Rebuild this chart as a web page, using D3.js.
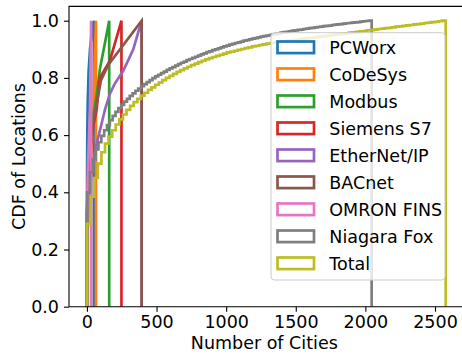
<!DOCTYPE html>
<html>
<head>
<meta charset="utf-8">
<script src="https://cdn.jsdelivr.net/npm/d3@7"></script>
<style>
  body { margin: 0; background: #fff; }
  svg { display: block; font-family: "DejaVu Sans", sans-serif; }
</style>
</head>
<body>
<div id="chart"></div>
<script>
const seriesNames = ["PCWorx", "CoDeSys", "Modbus", "Siemens S7", "EtherNet/IP", "BACnet", "OMRON FINS", "Niagara Fox", "Total"];
const seriesColors = ["#1f77b4", "#ff7f0e", "#2ca02c", "#d62728", "#9467bd", "#8c564b", "#e377c2", "#7f7f7f", "#bcbd22"];

// smaller protocols: [cities, cdf] knots (bins too narrow to show steps)
const pcworxCdf = [[1, 0.45], [3, 0.62], [6, 0.72], [12, 0.82], [22, 0.9], [35, 0.96], [50, 1.0]];
const codesysCdf = [[1, 0.22], [10, 0.32], [20, 0.42], [30, 0.52], [40, 0.62], [46, 0.69], [55, 0.85], [65, 1.0]];
const modbusCdf = [[1, 0.35], [10, 0.47], [20, 0.56], [35, 0.64], [57, 0.7], [70, 0.74], [93, 0.83], [160, 1.0]];
const siemensCdf = [[1, 0.33], [10, 0.45], [25, 0.55], [45, 0.63], [70, 0.69], [93, 0.8], [165, 0.86], [248, 1.0]];
const ethernetCdf = [[1, 0.3], [10, 0.36], [25, 0.43], [50, 0.52], [75, 0.58], [100, 0.63], [130, 0.69], [165, 0.745], [200, 0.78], [261, 0.825], [333, 0.9], [393, 1.0]];
const bacnetCdf = [[1, 0.32], [10, 0.45], [25, 0.56], [45, 0.64], [70, 0.71], [100, 0.79], [153, 0.845], [393, 1.0]];
const omronCdf = [[1, 0.3], [3, 0.38], [8, 0.5], [15, 0.6], [22, 0.69], [30, 1.0]];

// big series: cumulative fraction per bin, 100 equal bins between min and max
const niagaraRange = [1, 2045];
const niagaraCdf = [
  0.400, 0.470, 0.515, 0.550, 0.575, 0.597, 0.617, 0.635, 0.652, 0.667,
  0.681, 0.694, 0.706, 0.717, 0.727, 0.737, 0.746, 0.755, 0.763, 0.771,
  0.778, 0.785, 0.792, 0.799, 0.805, 0.811, 0.817, 0.822, 0.828, 0.833,
  0.838, 0.843, 0.848, 0.853, 0.857, 0.862, 0.866, 0.870, 0.874, 0.878,
  0.882, 0.886, 0.890, 0.893, 0.897, 0.900, 0.903, 0.907, 0.910, 0.913,
  0.916, 0.919, 0.922, 0.924, 0.927, 0.930, 0.932, 0.935, 0.937, 0.939,
  0.942, 0.944, 0.946, 0.948, 0.950, 0.952, 0.954, 0.956, 0.958, 0.960,
  0.961, 0.963, 0.965, 0.966, 0.968, 0.969, 0.971, 0.972, 0.974, 0.975,
  0.977, 0.978, 0.979, 0.981, 0.982, 0.983, 0.985, 0.986, 0.987, 0.988,
  0.990, 0.991, 0.992, 0.993, 0.994, 0.995, 0.997, 0.998, 0.999, 1.000
];
const totalRange = [1, 2577];
const totalCdf = [
  0.290, 0.385, 0.450, 0.500, 0.540, 0.570, 0.595, 0.617, 0.637, 0.655,
  0.672, 0.688, 0.702, 0.715, 0.727, 0.738, 0.748, 0.758, 0.767, 0.776,
  0.784, 0.792, 0.800, 0.807, 0.814, 0.821, 0.827, 0.833, 0.839, 0.845,
  0.850, 0.855, 0.860, 0.865, 0.869, 0.873, 0.877, 0.881, 0.885, 0.889,
  0.892, 0.895, 0.898, 0.901, 0.904, 0.907, 0.910, 0.912, 0.915, 0.917,
  0.920, 0.922, 0.923, 0.925, 0.927, 0.928, 0.930, 0.932, 0.933, 0.935,
  0.937, 0.938, 0.940, 0.941, 0.943, 0.945, 0.946, 0.948, 0.950, 0.951,
  0.953, 0.954, 0.956, 0.958, 0.959, 0.961, 0.963, 0.964, 0.966, 0.967,
  0.969, 0.971, 0.972, 0.974, 0.975, 0.977, 0.979, 0.980, 0.982, 0.984,
  0.985, 0.987, 0.988, 0.990, 0.992, 0.993, 0.995, 0.996, 0.998, 1.000
];

const xTicks = [0, 500, 1000, 1500, 2000, 2500];
const yTicks = [0, 0.2, 0.4, 0.6, 0.8, 1.0];

const WIDTH = 462;
const HEIGHT = 356;
const plot = { left: 69, right: 463.6, top: 6.4, bottom: 306.7 };
const FONT_SIZE = 17.5;
const LINE_WIDTH = 2.7;

const x = d3.scaleLinear().domain([-128.8, 2705.5]).range([plot.left, plot.right]);
const y = d3.scaleLinear().domain([0, 1.05]).range([plot.bottom, plot.top]);

// outline of a knot series drawn as a step histogram: up at min, across, down at max
const knotOutline = knots => {
  const last = knots[knots.length - 1];
  return [[knots[0][0], 0], ...knots, [last[0], 0]];
};

const binOutline = (range, cdf) => {
  const n = cdf.length;
  const edge = i => range[0] + (range[1] - range[0]) * i / n;
  const pts = [[edge(0), 0]];
  cdf.forEach((c, i) => {
    pts.push([edge(i), c], [edge(i + 1), c]);
  });
  pts.push([edge(n), 0]);
  return pts;
};

const outlines = [
  knotOutline(pcworxCdf),
  knotOutline(codesysCdf),
  knotOutline(modbusCdf),
  knotOutline(siemensCdf),
  knotOutline(ethernetCdf),
  knotOutline(bacnetCdf),
  knotOutline(omronCdf),
  binOutline(niagaraRange, niagaraCdf),
  binOutline(totalRange, totalCdf),
];

const svg = d3.select("#chart")
  .append("svg")
  .attr("width", WIDTH)
  .attr("height", HEIGHT);

svg.append("defs")
  .append("clipPath")
  .attr("id", "plot-clip")
  .append("rect")
  .attr("x", plot.left)
  .attr("y", plot.top)
  .attr("width", plot.right - plot.left)
  .attr("height", plot.bottom - plot.top);

const line = d3.line()
  .x(d => x(d[0]))
  .y(d => y(d[1]));

svg.append("g")
  .attr("clip-path", "url(#plot-clip)")
  .selectAll("path")
  .data(outlines)
  .join("path")
  .attr("d", line)
  .attr("fill", "none")
  .attr("stroke", (d, i) => seriesColors[i])
  .attr("stroke-width", LINE_WIDTH)
  .attr("stroke-linejoin", "miter");

// axes
const xAxis = svg.append("g")
  .attr("transform", `translate(0,${plot.bottom})`)
  .call(d3.axisBottom(x).tickValues(xTicks).tickFormat(d3.format("d")).tickSizeOuter(0).tickSize(5).tickPadding(4));
const yAxis = svg.append("g")
  .attr("transform", `translate(${plot.left},0)`)
  .call(d3.axisLeft(y).tickValues(yTicks).tickFormat(d3.format(".1f")).tickSizeOuter(0).tickSize(5).tickPadding(5));

[xAxis, yAxis].forEach(g => {
  g.select(".domain").remove();
  g.selectAll("line").attr("stroke", "#000").attr("stroke-width", 1.1);
  g.selectAll("text")
    .attr("fill", "#000")
    .style("font-size", FONT_SIZE + "px")
    .style("font-family", "DejaVu Sans");
});

// spines: left, bottom, top
svg.append("path")
  .attr("d", `M${plot.left},${plot.bottom}V${plot.top}H${plot.right}M${plot.left},${plot.bottom}H${plot.right}`)
  .attr("fill", "none")
  .attr("stroke", "#000")
  .attr("stroke-width", 1.1);

svg.append("text")
  .attr("x", (plot.left + plot.right) / 2 - 2)
  .attr("y", 349)
  .attr("text-anchor", "middle")
  .style("font-size", FONT_SIZE + "px")
  .text("Number of Cities");

svg.append("text")
  .attr("transform", `translate(25,${(plot.top + plot.bottom) / 2}) rotate(-90)`)
  .attr("text-anchor", "middle")
  .style("font-size", FONT_SIZE + "px")
  .text("CDF of Locations");

// legend
const legend = svg.append("g");
legend.append("rect")
  .attr("x", 271)
  .attr("y", 32.7)
  .attr("width", 174)
  .attr("height", 247.3)
  .attr("rx", 3.5)
  .attr("fill", "#fff")
  .attr("fill-opacity", 0.8)
  .attr("stroke", "#cccccc")
  .attr("stroke-width", 1);

const rows = legend.selectAll("g.row")
  .data(seriesNames)
  .join("g")
  .attr("class", "row")
  .attr("transform", (d, i) => `translate(0,${47.3 + 27 * i})`);
rows.append("rect")
  .attr("x", 277.5)
  .attr("y", -5.8)
  .attr("width", 36.5)
  .attr("height", 11.6)
  .attr("fill", "none")
  .attr("stroke", (d, i) => seriesColors[i])
  .attr("stroke-width", LINE_WIDTH);
rows.append("text")
  .attr("x", 329.3)
  .attr("y", 6.3)
  .style("font-size", FONT_SIZE + "px")
  .text(d => d);
</script>
</body>
</html>
